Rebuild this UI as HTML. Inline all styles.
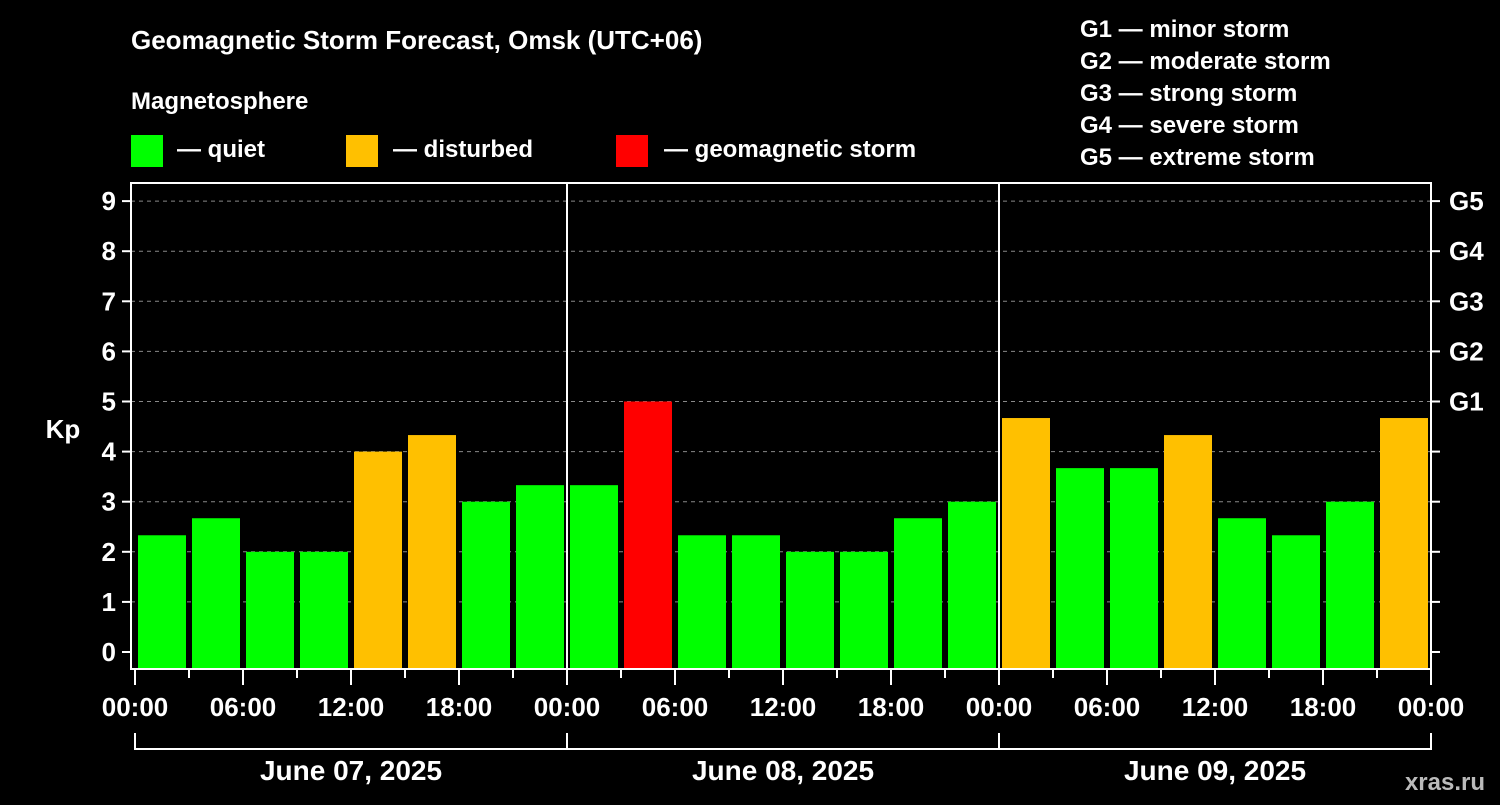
<!DOCTYPE html>
<html><head><meta charset="utf-8"><style>
body{margin:0;background:#000;width:1500px;height:800px;overflow:hidden;font-family:"Liberation Sans",sans-serif}
text{font-family:"Liberation Sans",sans-serif;font-weight:bold;fill:#fff}
</style></head><body>
<svg id="c" width="1500" height="800">
<text x="131" y="49" font-size="26">Geomagnetic Storm Forecast, Omsk (UTC+06)</text>
<text x="131" y="109" font-size="24">Magnetosphere</text>
<rect x="131" y="135" width="32" height="32" fill="#00ff00"/>
<text x="177" y="157" font-size="24">— quiet</text>
<rect x="346" y="135" width="32" height="32" fill="#ffc000"/>
<text x="393" y="157" font-size="24">— disturbed</text>
<rect x="616" y="135" width="32" height="32" fill="#ff0000"/>
<text x="664" y="157" font-size="24">— geomagnetic storm</text>
<g font-size="24">
<text x="1080" y="37">G1 — minor storm</text>
<text x="1080" y="69">G2 — moderate storm</text>
<text x="1080" y="101">G3 — strong storm</text>
<text x="1080" y="133">G4 — severe storm</text>
<text x="1080" y="165">G5 — extreme storm</text>
</g>
<text x="63" y="438" font-size="26" text-anchor="middle">Kp</text>
<text x="1485" y="790" font-size="24" text-anchor="end" fill="#bbb" style="fill:#bbb">xras.ru</text>
<g id="g"></g>
</svg>
<script>
const kpValues=[2.33,2.67,2,2,4,4.33,3,3.33, 3.33,5,2.33,2.33,2,2,2.67,3, 4.67,3.67,3.67,4.33,2.67,2.33,3,4.67];
const yTicks=[0,1,2,3,4,5,6,7,8,9];
const gLabels=["G1","G2","G3","G4","G5"];
const dayLabels=["June 07, 2025","June 08, 2025","June 09, 2025"];
const hourLabels=["00:00","06:00","12:00","18:00"];
const NS="http://www.w3.org/2000/svg",g=document.getElementById('g');
const X0=135,SLOT=54,Y0=652,KPU=50.1,TOP=183,BOT=669,RIGHT=1431;
const xs=i=>X0+i*SLOT, ys=v=>Y0-v*KPU;
function mk(t,a,p){const e=document.createElementNS(NS,t);for(const k in a)e.setAttribute(k,a[k]);(p||g).appendChild(e);return e;}
function col(v){return v>=5?"#ff0000":v>=4?"#ffc000":"#00ff00";}
yTicks.forEach(v=>{
 if(v>0){const l=mk('line',{x1:131,x2:RIGHT,y1:ys(v),y2:ys(v),stroke:'#888','stroke-dasharray':'4,4','stroke-width':1});
 
 }
 const t=mk('line',{x1:122,x2:131,y1:ys(v),y2:ys(v),stroke:'#fff','stroke-width':2});
 
 
 const r=mk('line',{x1:RIGHT,x2:RIGHT+9,y1:ys(v),y2:ys(v),stroke:'#fff','stroke-width':2});
 
 
 const tx=mk('text',{x:116,y:ys(v)+9,'font-size':26,'text-anchor':'end'});tx.textContent=v;
 
 
});
gLabels.forEach((s,i)=>{const tx=mk('text',{x:1449,y:ys(5+i)+9,'font-size':26});tx.textContent=s;
 
 });
kpValues.forEach((v,i)=>{const b=mk('rect',{x:xs(i)+3,y:ys(v),width:48,height:BOT-ys(v),fill:col(v)});
 
 });
const fr=mk('rect',{x:131,y:TOP,width:RIGHT-131,height:BOT-TOP,fill:'none',stroke:'#fff','stroke-width':2});


[1,2].forEach(d=>{const l=mk('line',{x1:xs(d*8),x2:xs(d*8),y1:TOP,y2:BOT,stroke:'#fff','stroke-width':2});
 
 });
for(let i=0;i<=24;i++){const major=i%2==0;
 const t=mk('line',{x1:xs(i),x2:xs(i),y1:BOT,y2:BOT+(major?16:9),stroke:'#fff','stroke-width':2});
 
 
 if(major){const tx=mk('text',{x:xs(i),y:716,'font-size':26,'text-anchor':'middle'});tx.textContent=hourLabels[(i/2)%4];
 
 }}
dayLabels.forEach((s,d)=>{
 const p=mk('path',{d:`M${xs(d*8)} 733V749H${xs(d*8+8)}`+(d==2?`V733`:''),stroke:'#fff','stroke-width':2,fill:'none'});
 
 
 const tx=mk('text',{x:xs(d*8+4),y:780,'font-size':28,'text-anchor':'middle'});tx.textContent=s;
 
 });
</script>
</body></html>
